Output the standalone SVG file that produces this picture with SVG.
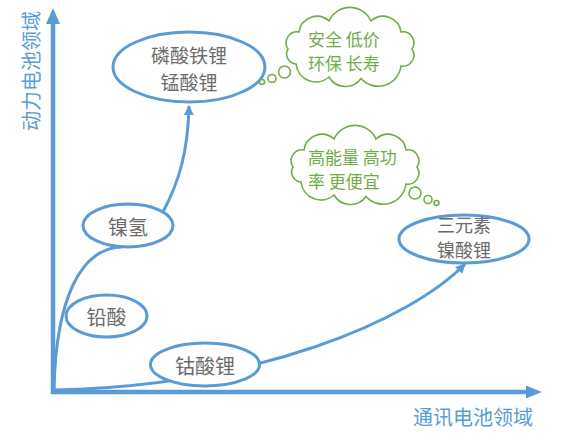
<svg xmlns="http://www.w3.org/2000/svg" width="565" height="441" viewBox="0 0 565 441">
<style>
.ax{stroke:#5B9BD5;stroke-width:4.5;fill:none}
.ah{fill:#5B9BD5}
.cv{stroke:#5B9BD5;stroke-width:3;fill:none}
.nd{fill:#fff;stroke:#5B9BD5;stroke-width:3}
.nt{font-family:"Noto Sans CJK SC","Noto Sans",sans-serif;font-size:20px;fill:#6b6b6b;text-anchor:middle;dominant-baseline:central}
.lb{font-family:"Noto Sans CJK SC","Noto Sans",sans-serif;font-size:20px;fill:#5B9BD5;text-anchor:middle;dominant-baseline:central}
.cl{fill:#fff;stroke:#70AD47;stroke-width:1.6}
.ct{font-family:"Noto Sans CJK SC","Noto Sans",sans-serif;font-size:17px;fill:#70AD47;dominant-baseline:central}
</style>
<defs>
<marker id="arr" viewBox="0 0 10 10" refX="9" refY="5" markerWidth="3.4" markerHeight="3.4" orient="auto" markerUnits="strokeWidth">
<path d="M0,0 L10,5 L0,10 Z" fill="#5B9BD5"/>
</marker>
<path id="cloud" d="M288,49 A11,11 0 0 1 299,32 A18,18 0 0 1 329,21 A23,23 0 0 1 371,21 A18,18 0 0 1 401,32 A11,11 0 0 1 412,49 A11,11 0 0 1 401,66 A23,23 0 0 1 361,78.5 A19,19 0 0 1 329,77 A20,20 0 0 1 296,64 A10,10 0 0 1 288,49 Z"/>
</defs>

<g id="axes">
<line class="ax" x1="53" y1="394" x2="53" y2="22"/>
<polygon class="ah" points="53,8 46,24 60,24"/>
<line class="ax" x1="51" y1="392" x2="528" y2="392"/>
<polygon class="ah" points="542,392 526,385.5 526,398.5"/>
<text class="lb" transform="translate(30,71) rotate(-90)">动力电池领域</text>
<text class="lb" x="473" y="416">通讯电池领域</text>
</g>

<g id="connectors">
<path class="cv" d="M54,389 C56,300 80,248 122,247"/>
<path class="cv" d="M163,212 C180,180 188,150 189,106" marker-end="url(#arr)"/>
<path class="cv" d="M53,390 C260,386 410,320 465,264" marker-end="url(#arr)"/>
</g>

<g id="node-lfp">
<ellipse class="nd" cx="189" cy="67" rx="76" ry="35"/>
<text class="nt" x="189" y="54" style="font-size:19px">磷酸铁锂</text>
<text class="nt" x="189" y="81" style="font-size:19px">锰酸锂</text>
</g>

<g id="node-nimh">
<ellipse class="nd" cx="128" cy="225.5" rx="45" ry="21.5"/>
<text class="nt" x="128" y="226">镍氢</text>
</g>

<g id="node-lead">
<ellipse class="nd" cx="106.5" cy="316" rx="40.5" ry="21"/>
<text class="nt" x="106.5" y="316">铅酸</text>
</g>

<g id="node-lco">
<ellipse class="nd" cx="205" cy="364.5" rx="54.5" ry="21.5"/>
<text class="nt" x="205" y="365">钴酸锂</text>
</g>

<g id="node-ncm">
<ellipse class="nd" cx="464" cy="239" rx="65" ry="24"/>
<text class="nt" x="464" y="224" style="font-size:18px">三元素</text>
<text class="nt" x="464" y="249" style="font-size:18px">镍酸锂</text>
</g>

<g id="cloud-1">
<circle class="cl" cx="284.5" cy="72" r="6"/>
<circle class="cl" cx="272" cy="78.5" r="4"/>
<circle class="cl" cx="262" cy="82" r="2.5"/>
<use href="#cloud" class="cl"/>
<text class="ct" x="308" y="38">安全 低价</text>
<text class="ct" x="308" y="62">环保 长寿</text>
</g>

<g id="cloud-2">
<circle class="cl" cx="415" cy="193" r="6"/>
<circle class="cl" cx="428" cy="199.5" r="4"/>
<circle class="cl" cx="436.5" cy="203" r="2.5"/>
<use href="#cloud" class="cl" transform="translate(5,118)"/>
<text class="ct" x="308" y="156">高能量 高功</text>
<text class="ct" x="308" y="180">率 更便宜</text>
</g>
</svg>
